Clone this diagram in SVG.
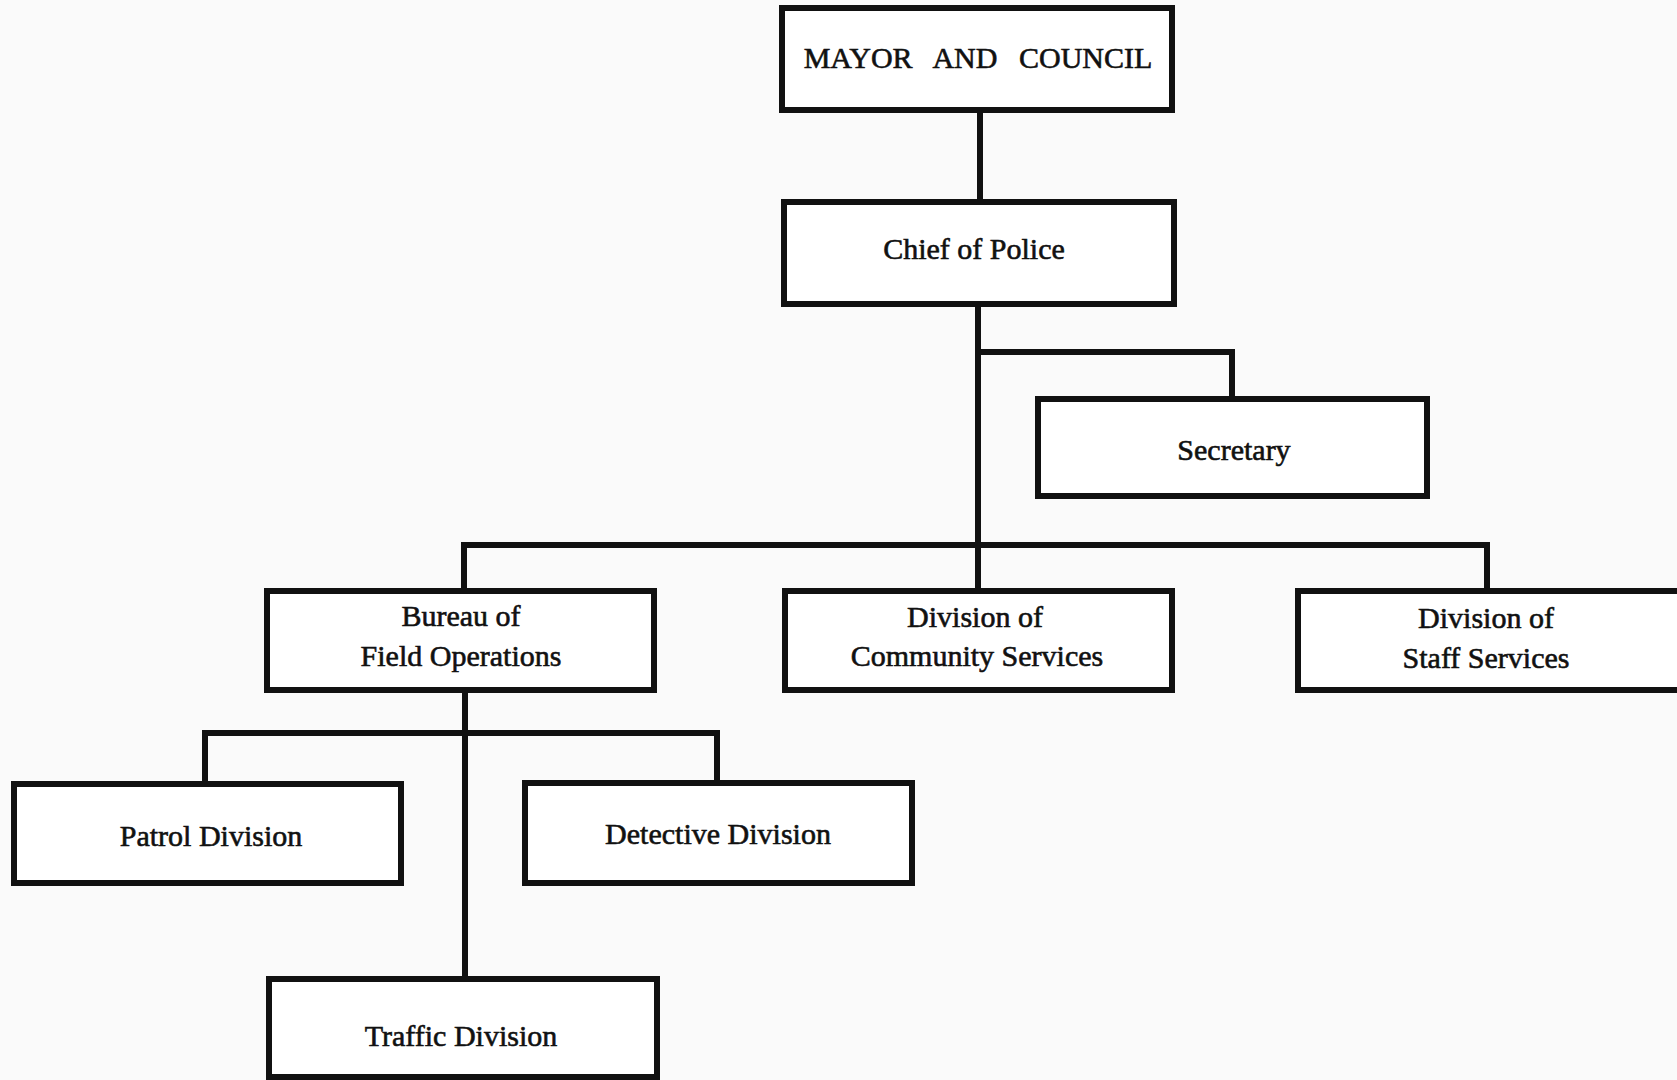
<svg xmlns="http://www.w3.org/2000/svg" width="1677" height="1080" viewBox="0 0 1677 1080">
<style>
.box{fill:#ffffff;stroke:#111;stroke-width:6}
.ln{fill:none;stroke:#111;stroke-width:6;stroke-linecap:square;stroke-linejoin:miter}
.t{font-family:"Liberation Serif","Times New Roman",serif;font-size:30px;fill:#111;stroke:#111;stroke-width:0.6;text-anchor:middle}
</style>
<rect width="1677" height="1080" fill="#fafafa"/>
<g id="connectors">
<path class="ln" d="M980 113V199"/>
<path class="ln" d="M978 307V545"/>
<path class="ln" d="M978 352H1232V396"/>
<path class="ln" d="M464 588V545H1487V588"/>
<path class="ln" d="M978 545V588"/>
<path class="ln" d="M465 693V976"/>
<path class="ln" d="M205 781V733H717V780"/>
</g>
<g id="mayor"><rect class="box" x="782" y="8" width="390" height="102"/><text class="t" x="978" y="68" font-size="31" word-spacing="14">MAYOR AND COUNCIL</text></g>
<g id="chief"><rect class="box" x="784" y="202" width="390" height="102"/><text class="t" x="974" y="259">Chief of Police</text></g>
<g id="secretary"><rect class="box" x="1038" y="399" width="389" height="97"/><text class="t" x="1234" y="460">Secretary</text></g>
<g id="bureau"><rect class="box" x="267" y="591" width="387" height="99"/><text class="t" x="461" y="626">Bureau of</text><text class="t" x="461" y="666">Field Operations</text></g>
<g id="community"><rect class="box" x="785" y="591" width="387" height="99"/><text class="t" x="975" y="627">Division of</text><text class="t" x="977" y="666">Community Services</text></g>
<g id="staff"><rect class="box" x="1298" y="591" width="400" height="99"/><text class="t" x="1486" y="628">Division of</text><text class="t" x="1486" y="668">Staff Services</text></g>
<g id="patrol"><rect class="box" x="14" y="784" width="387" height="99"/><text class="t" x="211" y="846">Patrol Division</text></g>
<g id="detective"><rect class="box" x="525" y="783" width="387" height="100"/><text class="t" x="718" y="844">Detective Division</text></g>
<g id="traffic"><rect class="box" x="269" y="979" width="388" height="98"/><text class="t" x="461" y="1046">Traffic Division</text></g>
</svg>
